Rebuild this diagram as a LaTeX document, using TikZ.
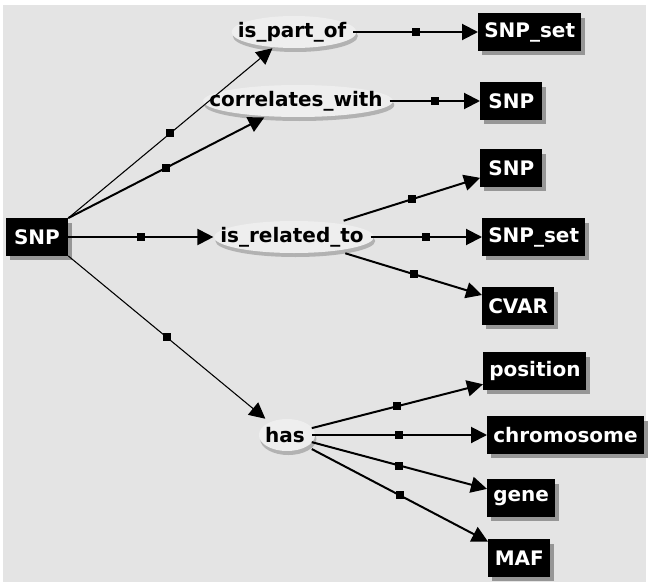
\documentclass[tikz,border=0pt]{standalone}
\usepackage{fontspec}
\setsansfont{DejaVu Sans}
\usepackage{tikz}
\usetikzlibrary{arrows.meta, positioning, calc, backgrounds, shadows}
\definecolor{canvas}{RGB}{228, 228, 228}
\definecolor{ovalfill}{RGB}{238, 238, 238}
\definecolor{ovalshade}{RGB}{178, 178, 178}
\definecolor{boxshade}{RGB}{150, 150, 150}
\newcommand{\termfont}{\sffamily\bfseries\fontsize{15}{18}\selectfont}

\begin{document}
\begin{tikzpicture}[
    x=0.75pt, y=-0.75pt,
    term/.style={fill=black, text=white, font=\termfont, inner xsep=4.5pt, inner ysep=0pt,
        minimum width=46.5pt, minimum height=28pt,
        drop shadow={shadow xshift=3pt, shadow yshift=-3.5pt, fill=boxshade, opacity=1}},
    rel/.style={font=\termfont, inner xsep=5pt, inner ysep=0pt, minimum height=24pt},
    link/.style={-{Triangle[length=12pt, width=12pt]}, line width=1.5pt, black},
    thin link/.style={link, line width=0.8pt},
    sq/.style={fill=black, inner sep=0pt, minimum size=6pt}
]
    \useasboundingbox (0,0) rectangle (649,585);

    % Nodes - subject
    \node[term] (root) at (37,237) {SNP};

    % Nodes - relations
    \node[rel] (partof) at (292,32) {is\_part\_of};
    \node[rel] (correl) at (296,101) {correlates\_with};
    \node[rel] (related) at (292,237) {is\_related\_to};
    \node[rel] (has) at (285,435) {has};

    % Nodes - objects
    \node[term, anchor=west] (snpset1) at (478,32) {SNP\_set};
    \node[term, anchor=west] (snp2) at (480,101) {SNP};
    \node[term, anchor=west] (snp3) at (480,168) {SNP};
    \node[term, anchor=west] (snpset2) at (482,237) {SNP\_set};
    \node[term, anchor=west] (cvar) at (482,306) {CVAR};
    \node[term, anchor=west] (position) at (483,371) {position};
    \node[term, anchor=west] (chromosome) at (487,435) {chromosome};
    \node[term, anchor=west] (gene) at (487,498) {gene};
    \node[term, anchor=west] (maf) at (488,558) {MAF};

    % Arrows - from SNP
    \draw[thin link] (root.north east) -- node[sq] {} (partof);
    \draw[link] (root.north east) -- node[sq] {} (correl);
    \draw[link] (root.east) -- node[sq] {} (related.west |- root.east);
    \draw[thin link] (root.south east) -- node[sq] {} (has);

    % Arrows - to objects
    \draw[link] (partof) -- node[sq] {} (snpset1);
    \draw[link] (correl) -- node[sq] {} (snp2);
    \draw[link] (related) -- node[sq] {} (snp3);
    \draw[link] (related) -- node[sq] {} (snpset2);
    \draw[link] (related) -- node[sq] {} (cvar);
    \draw[link] (has) -- node[sq] {} (position);
    \draw[link] (has) -- node[sq] {} (chromosome);
    \draw[link] (has) -- node[sq] {} (gene);
    \draw[link] (has) -- node[sq] {} (maf);

    % Background and ovals
    \begin{scope}[on background layer]
        \fill[canvas] (3,5) rectangle (646,582);
        \foreach \rel in {partof, correl, related, has}{
            \fill[ovalshade] let \p1=($(\rel.east)-(\rel.west)$) in
                ($(\rel.center)+(2.5pt,-3pt)$) ellipse [x radius=0.5*\x1+1pt, y radius=12pt];
            \fill[ovalfill] let \p1=($(\rel.east)-(\rel.west)$) in
                ($(\rel.center)+(1.5pt,0pt)$) ellipse [x radius=0.5*\x1+1pt, y radius=12pt];
        }
    \end{scope}
\end{tikzpicture}
\end{document}
